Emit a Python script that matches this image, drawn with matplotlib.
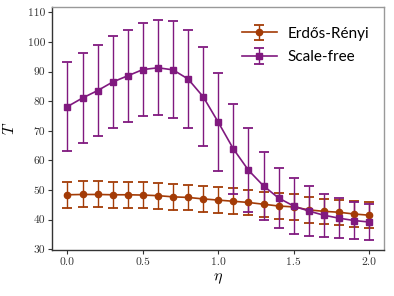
import matplotlib
matplotlib.use("Agg")
import matplotlib.pyplot as plt
import numpy as np

plt.rcParams['mathtext.fontset'] = 'cm'
plt.rcParams['axes.formatter.use_mathtext'] = True

eta = [0.0, 0.1, 0.2, 0.3, 0.4, 0.5, 0.6, 0.7, 0.8, 0.9, 1.0,
       1.1, 1.2, 1.3, 1.4, 1.5, 1.6, 1.7, 1.8, 1.9, 2.0]
er_mean = [48.4, 48.5, 48.5, 48.4, 48.4, 48.3, 48.1, 47.7, 47.5, 47.0, 46.6,
           46.2, 45.8, 45.2, 44.6, 44.3, 43.3, 42.8, 42.5, 41.9, 41.5]
er_err = [4.4, 4.4, 4.4, 4.4, 4.4, 4.4, 4.4, 4.3, 4.3, 4.4, 4.5,
          4.4, 4.3, 4.3, 4.3, 4.3, 4.3, 4.3, 4.3, 4.3, 4.3]
sf_mean = [78.2, 81.1, 83.6, 86.5, 88.6, 90.7, 91.3, 90.6, 87.5, 81.5, 72.9,
           63.9, 56.7, 51.4, 47.3, 44.6, 42.9, 41.5, 40.5, 39.7, 39.2]
sf_err = [14.9, 15.2, 15.3, 15.5, 15.6, 15.8, 16.0, 16.4, 16.4, 16.7, 16.6,
          15.3, 14.1, 11.5, 10.2, 9.3, 8.3, 7.2, 6.7, 6.3, 6.0]

c_er = '#a33b06'
c_sf = '#80197f'

fig = plt.figure(figsize=(3.94, 2.96), dpi=100)
ax = fig.add_axes([0.133, 0.155, 0.842, 0.822])

ax.errorbar(eta, er_mean, yerr=er_err, color=c_er, marker='o', ms=4.5,
            lw=1.2, elinewidth=1.0, capsize=3.5, capthick=1.3,
            label='Erdős-Rényi')
ax.errorbar(eta, sf_mean, yerr=sf_err, color=c_sf, marker='s', ms=4.5,
            lw=1.2, elinewidth=1.0, capsize=3.5, capthick=1.3,
            label='Scale-free')

ax.set_xlim(-0.1, 2.1)
ax.set_ylim(29.7, 111.9)
ax.set_xticks([0.0, 0.5, 1.0, 1.5, 2.0])
ax.set_yticks([30, 40, 50, 60, 70, 80, 90, 100, 110])
ax.set_xticklabels(['0.0', '0.5', '1.0', '1.5', '2.0'])
ax.set_yticklabels(['30', '40', '50', '60', '70', '80', '90', '100', '110'])
for lab in ax.get_xticklabels() + ax.get_yticklabels():
    lab.set_fontfamily('cmr10')
    lab.set_fontsize(8.3)
    lab.set_color('#222222')

ax.tick_params(axis='both', direction='out', length=3, width=0.8,
               colors='#333333', pad=2)
ax.spines['left'].set_color('#333333')
ax.spines['bottom'].set_color('#333333')
ax.spines['top'].set_color('#999999')
ax.spines['right'].set_color('#999999')
for s in ax.spines.values():
    s.set_linewidth(1.0)

ax.set_xlabel(r'$\eta$', fontsize=11.5, labelpad=3)
ax.set_ylabel(r'$T$', fontsize=11.5, labelpad=8)

leg = ax.legend(loc='upper right', bbox_to_anchor=(0.973, 0.944),
                frameon=False, handlelength=2.3,
                borderaxespad=0.0, labelspacing=0.65, handletextpad=0.7,
                prop={'family': 'Lato', 'size': 11})

fig.savefig('out.png', dpi=100)
